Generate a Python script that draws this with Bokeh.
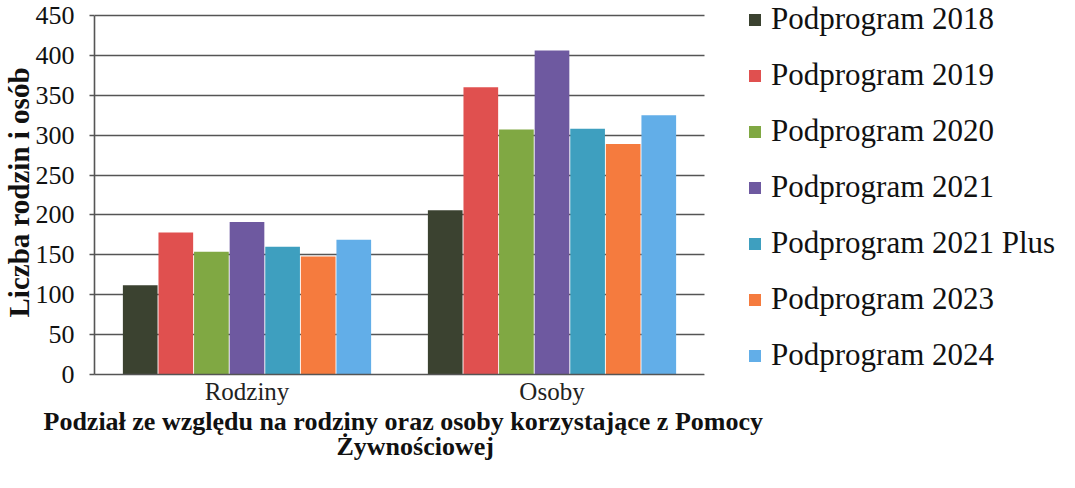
from bokeh.plotting import figure
from bokeh.models import (ColumnDataSource, Legend, LegendItem, Range1d, SingleIntervalTicker,
                          FixedTicker, BoxAnnotation, Title)
from bokeh.embed import file_html
from bokeh.resources import INLINE

categories = ["Rodziny", "Osoby"]
series_names = ["Podprogram 2018", "Podprogram 2019", "Podprogram 2020", "Podprogram 2021",
                "Podprogram 2021 Plus", "Podprogram 2023", "Podprogram 2024"]
v2018 = [112, 206]
v2019 = [178, 360]
v2020 = [154, 307]
v2021 = [191, 406]
v2021plus = [160, 308]
v2023 = [148, 289]
v2024 = [169, 325]
colors = ["#3b4230", "#e0504f", "#80a843", "#6e59a0", "#3e9fbf", "#f57b3e", "#62aee8"]
y_max = 450
y_step = 50
y_title = "Liczba rodzin i osób"
x_title_lines = ["Podział ze względu na rodziny oraz osoby korzystające z Pomocy", "Żywnościowej"]

values = [v2018, v2019, v2020, v2021, v2021plus, v2023, v2024]

SERIF = "Liberation Serif"

# layout parameters (pixels)
FIG_W, FIG_H = 1059, 472
B_LEFT, B_BOTTOM, TOP_GAP = 94, 98, 15
PLOT_W = 610
frame_w = FIG_W - B_LEFT
frame_h = FIG_H - B_BOTTOM
ncat = len(categories)
x_end = ncat * frame_w / PLOT_W
y_top = y_max * frame_h / (frame_h - TOP_GAP)

p = figure(x_range=Range1d(0, x_end), y_range=Range1d(0, y_top),
           width=FIG_W, height=FIG_H, output_backend="svg", toolbar_location=None,
           min_border_left=B_LEFT, min_border_right=0, min_border_top=0,
           min_border_bottom=B_BOTTOM)

cat_centers = [i + 0.5 for i in range(ncat)]
bw = 0.1167
n = len(values)
renderers = []
for i, v in enumerate(values):
    off = (i - (n - 1) / 2) * bw
    src = ColumnDataSource(dict(x=[c + off for c in cat_centers], top=v))
    r = p.vbar(x="x", top="top", width=bw - 0.003, source=src,
               fill_color=colors[i], line_color=None)
    renderers.append(r)

p.outline_line_color = None
p.background_fill_color = "white"
p.border_fill_color = "white"

p.xgrid.grid_line_color = None
p.ygrid.grid_line_color = "#555555"
p.ygrid.grid_line_width = 1.6
p.yaxis.ticker = SingleIntervalTicker(interval=y_step)
p.yaxis.bounds = (0, y_max)

p.yaxis.axis_line_color = "#555555"
p.yaxis.axis_line_width = 1.6
p.yaxis.major_tick_line_color = "#555555"
p.yaxis.major_tick_line_width = 1.6
p.yaxis.major_tick_out = 5
p.yaxis.major_tick_in = 0
p.yaxis.minor_tick_line_color = None
p.yaxis.major_label_text_font = SERIF
p.yaxis.major_label_text_font_size = "26px"
p.yaxis.major_label_text_color = "#111111"
p.yaxis.major_label_standoff = 15

# y-axis title on the left, placed along the plot area
p.add_layout(Title(text=y_title, align="left", offset=57, standoff=-4,
                   text_font=SERIF, text_font_style="bold", text_font_size="29px",
                   text_color="#111111"), "left")

p.xaxis.ticker = FixedTicker(ticks=cat_centers)
p.xaxis.major_label_overrides = {c: name for c, name in zip(cat_centers, categories)}
p.xaxis.bounds = (0, ncat)
p.xaxis.axis_line_color = "#555555"
p.xaxis.axis_line_width = 1.6
p.xaxis.major_tick_line_color = None
p.xaxis.minor_tick_line_color = None
p.xaxis.major_tick_out = 0
p.xaxis.major_tick_in = 0
p.xaxis.major_label_text_font = SERIF
p.xaxis.major_label_text_font_size = "25px"
p.xaxis.major_label_text_color = "#222222"
p.xaxis.major_label_standoff = 3

# x-axis title as two lines below the plot area
title_offsets = [-51, 242]
for line, off in zip(x_title_lines, title_offsets):
    t = Title(text=line, align="left", offset=off, standoff=-6,
              text_font=SERIF, text_font_style="bold", text_font_size="26px",
              text_color="#111111")
    p.add_layout(t, "below")

# blank area right of the plot (legend area)
p.add_layout(BoxAnnotation(left=ncat, fill_color="white", fill_alpha=1.0, line_alpha=0))

items = [LegendItem(label=series_names[i], renderers=[renderers[i]]) for i in range(n)]
ITEM_H, SPACING = 36, 20
leg_h = n * ITEM_H + (n - 1) * SPACING
legend = Legend(items=items, location=(PLOT_W + 43, frame_h - leg_h - 1), orientation="vertical")
legend.label_text_font = SERIF
legend.label_text_font_size = "31px"
legend.label_text_color = "#111111"
legend.glyph_width = 15
legend.glyph_height = 15
legend.label_height = ITEM_H
legend.label_standoff = 9
legend.spacing = SPACING
legend.padding = 0
legend.margin = 0
legend.border_line_color = None
legend.background_fill_alpha = 0
p.add_layout(legend)

open("out.html", "w").write(file_html(p, INLINE))
